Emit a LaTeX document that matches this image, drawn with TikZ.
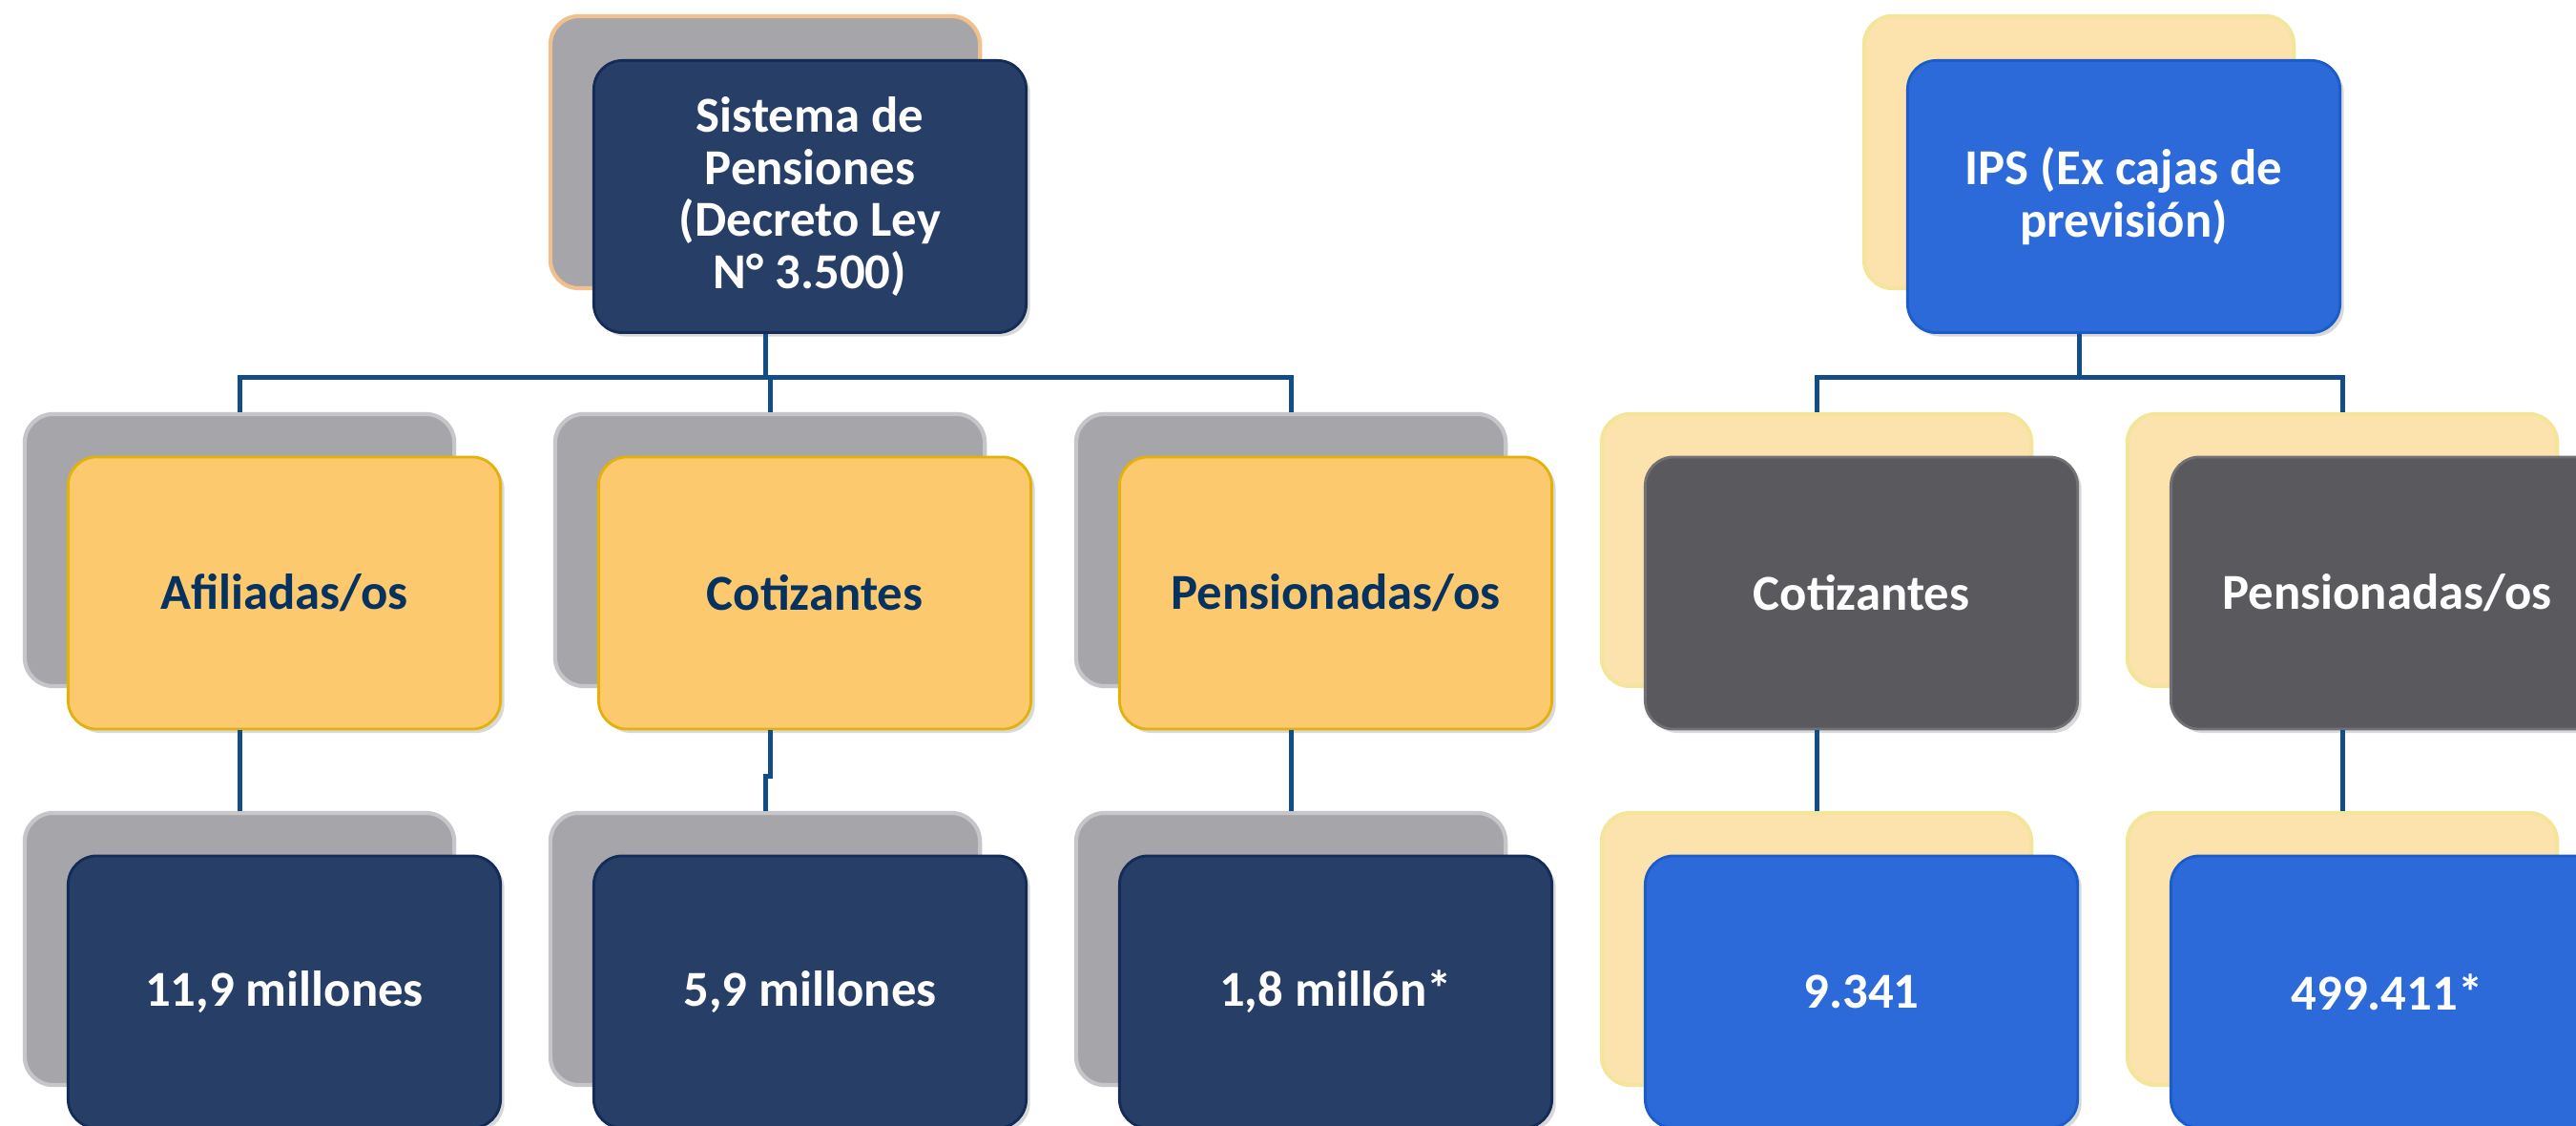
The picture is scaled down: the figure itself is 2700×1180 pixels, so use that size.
\documentclass[tikz,border=0pt]{standalone}
\usepackage{fontspec}
\setmainfont{Carlito}
\usetikzlibrary{shadows}
\definecolor{navy}{HTML}{273F67}
\definecolor{navyedge}{HTML}{142B57}
\definecolor{gold}{HTML}{FDC96F}
\definecolor{goldedge}{HTML}{E2B20A}
\definecolor{navytext}{HTML}{05325F}
\definecolor{backgray}{HTML}{A6A6AA}
\definecolor{backgrayedge}{HTML}{C6C6CA}
\definecolor{backorange}{HTML}{F2C08C}
\definecolor{tanfill}{HTML}{FCE3AD}
\definecolor{tanedge}{HTML}{F3E69A}
\definecolor{ipsblue}{HTML}{2D6AD9}
\definecolor{ipsblueedge}{HTML}{1B5CC8}
\definecolor{slate}{HTML}{5A595E}
\definecolor{slateedge}{HTML}{707075}
\definecolor{conncol}{HTML}{124D88}
\tikzset{
  box/.style={rounded corners=0.3cm, minimum width=4.53cm, minimum height=2.85cm,
    inner sep=0pt, align=center, font=\fontsize{15}{15.6}\selectfont\bfseries,
    line width=0.8pt, drop shadow={shadow xshift=0.04cm, shadow yshift=-0.04cm, opacity=0.3}},
  backbox/.style={rounded corners=0.3cm, minimum width=4.5cm, minimum height=2.85cm,
    inner sep=0pt, line width=1.2pt},
  grayback/.style={backbox, fill=backgray, draw=backgrayedge},
  tanback/.style={backbox, fill=tanfill, draw=tanedge},
  navybox/.style={box, fill=navy, draw=navyedge, text=white},
  goldbox/.style={box, fill=gold, draw=goldedge, text=navytext},
  bluebox/.style={box, fill=ipsblue, draw=ipsblueedge, text=white},
  slatebox/.style={box, fill=slate, draw=slateedge, text=white},
  conn/.style={draw=conncol, line width=0.05cm}
}
\begin{document}
\begin{tikzpicture}[x=0.01cm, y=-0.01cm]
\fill[white] (0,0) rectangle (2700,1180);
\useasboundingbox (0,0) rectangle (2700,1180);
\coordinate (bus) at (0,396);
% ---------- left group ----------
\node[grayback, draw=backorange] (tlB) at (802,159.5) {};
\node[navybox] (tlF) at (849,206) {Sistema de\\Pensiones\\(Decreto Ley\\N° 3.500)};

\node[grayback] (m1B) at (251,576.5) {};
\node[goldbox] (m1F) at (298,621.5) {Afiliadas/os};
\node[grayback] (m2B) at (807,576.5) {};
\node[goldbox] (m2F) at (854,621.5) {Cotizantes};
\node[grayback] (m3B) at (1353,576.5) {};
\node[goldbox] (m3F) at (1400,621.5) {Pensionadas/os};

\node[grayback] (b1B) at (251,994.5) {};
\node[navybox] (b1F) at (298,1039.5) {11,9 millones};
\node[grayback] (b2B) at (802,994.5) {};
\node[navybox] (b2F) at (849,1039.5) {5,9 millones};
\node[grayback] (b3B) at (1353,994.5) {};
\node[navybox] (b3F) at (1400,1039.5) {1,8 millón*};

% ---------- right group ----------
\node[tanback] (trB) at (2179,159.5) {};
\node[bluebox] (trF) at (2226,206) {IPS (Ex cajas de\\previsión)};

\node[tanback] (m4B) at (1904,576.5) {};
\node[slatebox] (m4F) at (1951,621.5) {Cotizantes};
\node[tanback] (m5B) at (2455,576.5) {};
\node[slatebox] (m5F) at (2502,621.5) {Pensionadas/os};

\node[tanback] (b4B) at (1904,994.5) {};
\node[bluebox] (b4F) at (1951,1039.5) {9.341};
\node[tanback] (b5B) at (2455,994.5) {};
\node[bluebox] (b5F) at (2502,1039.5) {499.411*};

% ---------- connectors ----------
\draw[conn] (tlB |- tlF.south) -- (tlB |- bus);
\draw[conn] (m1B.north) |- (m3B |- bus) -- (m3B.north);
\draw[conn] (m2B |- bus) -- (m2B.north);

\draw[conn] (trB |- trF.south) -- (trB |- bus);
\draw[conn] (m4B.north) |- (m5B |- bus) -- (m5B.north);

\draw[conn] (m1B |- m1F.south) -- (b1B.north);
\draw[conn] (m2B |- m2F.south) -- ++(0,48) -| (b2B.north);
\draw[conn] (m3B |- m3F.south) -- (b3B.north);
\draw[conn] (m4B |- m4F.south) -- (b4B.north);
\draw[conn] (m5B |- m5F.south) -- (b5B.north);
\end{tikzpicture}
\end{document}
